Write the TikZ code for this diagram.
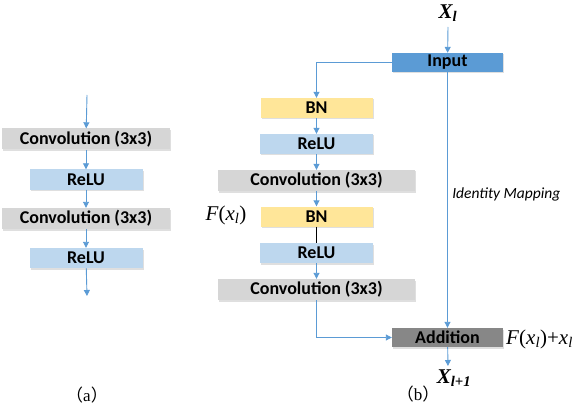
\documentclass[tikz,border=0pt]{standalone}
\usepackage{fontspec}
\setmainfont{Carlito}
\newfontfamily\tnr{Liberation Serif}
\newfontfamily\cjk{Noto Sans CJK SC}
\usetikzlibrary{shadows,arrows.meta}
\definecolor{convgray}{HTML}{D6D6D6}
\definecolor{relublue}{HTML}{BDD7EE}
\definecolor{bnyellow}{HTML}{FFE699}
\definecolor{inblue}{HTML}{5B9BD5}
\definecolor{addgray}{HTML}{878787}
\definecolor{linkblue}{HTML}{5B9BD5}
\tikzset{
  blk/.style={inner sep=0pt, font=\fontsize{18}{20}\selectfont\bfseries,
    drop shadow={shadow xshift=1pt, shadow yshift=-1.5pt, opacity=0.25}},
  convbox/.style={blk, fill=convgray, minimum width=168pt, minimum height=21pt},
  widebox/.style={blk, fill=convgray, minimum width=197pt, minimum height=21pt},
  relubox/.style={blk, fill=relublue, minimum width=113pt, minimum height=20pt},
  bnbox/.style={blk, fill=bnyellow, minimum width=112pt, minimum height=20pt},
  inbox/.style={blk, fill=inblue, minimum width=111pt, minimum height=19pt},
  addbox/.style={blk, fill=addgray, minimum width=111pt, minimum height=19pt},
  link/.style={draw=linkblue, line width=0.9pt, -{Triangle[length=6pt,width=6pt]}},
  var/.style={font=\tnr\fontsize{21}{23}\selectfont, inner sep=0pt},
  sublabel/.style={font=\tnr\fontsize{17}{19}\selectfont, inner sep=0pt},
}
\begin{document}
\begin{tikzpicture}[x=1pt,y=-1pt]
  \useasboundingbox (0,0) rectangle (582,404);
  % (a) plain block
  \coordinate (a0) at (87,95);
  \coordinate (a5) at (87,296);
  \node[convbox] (ac1) at (86,139) {Convolution (3x3)};
  \node[relubox] (ar1) at (86,179.5) {ReLU};
  \node[convbox] (ac2) at (86,218.5) {Convolution (3x3)};
  \node[relubox] (ar2) at (86,258) {ReLU};
  \draw[link] (a0) -- (ac1);
  \draw[link] (ac1) -- (ar1);
  \draw[link] (ar1) -- (ac2);
  \draw[link] (ac2) -- (ar2);
  \draw[link] (ar2) -- (a5);
  \node[sublabel] (la) at (87,395) {{\cjk （}a{\cjk ）}};
  % (b) residual block
  \node[var] (xin) at (448,13) {\textbf{\textit{X\textsubscript{l}}}};
  \node[inbox] (inp) at (447.5,62.5) {Input};
  \node[bnbox] (bn1) at (316.5,108) {BN};
  \node[relubox] (rb1) at (316.5,144) {ReLU};
  \node[widebox] (cb1) at (316.5,180.5) {Convolution (3x3)};
  \node[bnbox] (bn2) at (316.5,216.5) {BN};
  \node[relubox] (rb2) at (316.5,253) {ReLU};
  \node[widebox] (cb2) at (316.5,289.5) {Convolution (3x3)};
  \node[addbox] (add) at (447.5,337.5) {Addition};
  \node[var] (xout) at (454,378) {\textbf{\textit{X\textsubscript{l+1}}}};
  \coordinate (xtop) at (448,27);
  \coordinate (xbot) at (448,366);
  \draw[link] (xtop) -- (inp);
  \draw[link] (inp.west) -| (bn1.north);
  \draw[link] (bn1) -- (rb1);
  \draw[link] (rb1) -- (cb1);
  \draw[link] (cb1) -- (bn2);
  \draw[line width=0.9pt] (bn2) -- (rb2);
  \draw[link] (rb2) -- (cb2);
  \draw[link] (cb2.south) |- (add.west);
  \draw[link] (inp) -- node[pos=0.48, right, xshift=1pt, font=\itshape\fontsize{15.5}{17}\selectfont] {Identity Mapping} (add);
  \draw[link] (add) -- (xbot);
  \node[var] (fx) at (226,215) {\textit{F}(\textit{x\textsubscript{l}})};
  \node[var, anchor=west] (fsum) at (506,339) {\textit{F}(\textit{x\textsubscript{l}})+\textit{x\textsubscript{l}}};
  \node[sublabel] (lb) at (418,394) {{\cjk （}b{\cjk ）}};
\end{tikzpicture}
\end{document}
